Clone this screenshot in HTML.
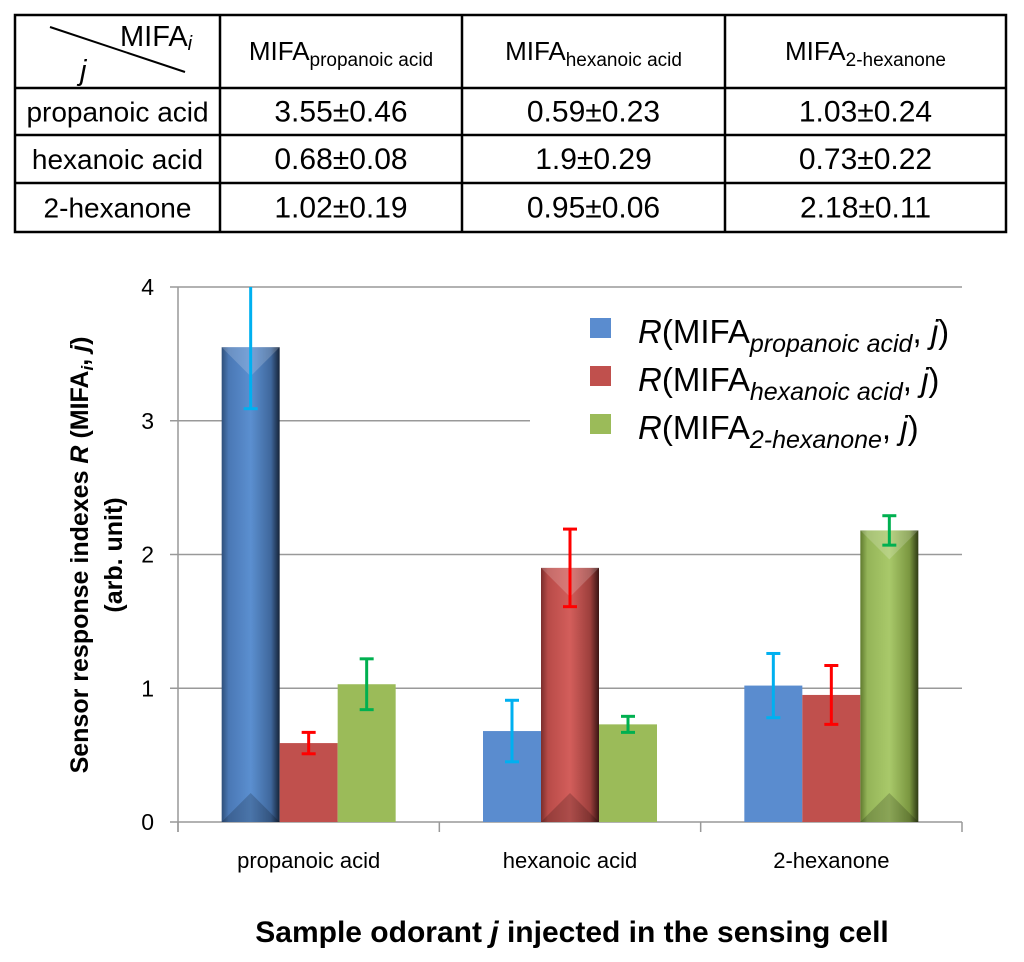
<!DOCTYPE html>
<html><head><meta charset="utf-8">
<style>
html,body{margin:0;padding:0;background:#fff;}
body{width:1024px;height:962px;position:relative;overflow:hidden;font-family:"Liberation Sans",sans-serif;}
svg{position:absolute;left:0;top:0;}
</style></head>
<body>
<svg width="1024" height="962" id="chart" xmlns="http://www.w3.org/2000/svg" font-family="Liberation Sans, sans-serif">
<defs>
<linearGradient id="gBlue" x1="0" x2="1" y1="0" y2="0">
<stop offset="0" stop-color="#2f4f7a"/><stop offset="0.12" stop-color="#4a78b5"/><stop offset="0.5" stop-color="#5b8fd0"/><stop offset="0.85" stop-color="#3f679c"/><stop offset="1" stop-color="#152338"/></linearGradient>
<linearGradient id="gRed" x1="0" x2="1" y1="0" y2="0">
<stop offset="0" stop-color="#7a2e2c"/><stop offset="0.12" stop-color="#b84b48"/><stop offset="0.5" stop-color="#d35e5b"/><stop offset="0.85" stop-color="#9c3f3c"/><stop offset="1" stop-color="#3a1514"/></linearGradient>
<linearGradient id="gGreen" x1="0" x2="1" y1="0" y2="0">
<stop offset="0" stop-color="#5f7a2e"/><stop offset="0.12" stop-color="#94b458"/><stop offset="0.5" stop-color="#a9c96a"/><stop offset="0.85" stop-color="#7a9640"/><stop offset="1" stop-color="#2e3a14"/></linearGradient>
</defs>
<g id="table"></g>
<g id="grid"></g>
<g id="bars"></g>
<g id="errs"></g>
<g id="axes"></g>
<text transform="translate(88,555) rotate(-90)" text-anchor="middle" font-size="25" font-weight="bold">Sensor response indexes <tspan font-style="italic">R</tspan> (MIFA<tspan font-size="17" dy="5" font-style="italic">i</tspan><tspan dy="-5">, </tspan><tspan font-style="italic">j</tspan>)</text>
<text transform="translate(122,555) rotate(-90)" text-anchor="middle" font-size="25" font-weight="bold">(arb. unit)</text>
<text x="572" y="942" text-anchor="middle" font-size="30" font-weight="bold">Sample odorant <tspan font-style="italic">j</tspan> injected in the sensing cell</text>
<g>
<rect x="530" y="298" width="434" height="180" fill="#fff"/>
<rect x="590" y="318" width="21" height="20" fill="#5a8ccf"/>
<rect x="590" y="366" width="21" height="20" fill="#c0504d"/>
<rect x="590" y="414" width="21" height="20" fill="#9bbb59"/>
<text x="638" y="343" font-size="33"><tspan font-style="italic">R</tspan>(MIFA<tspan font-style="italic" font-size="25" dy="9">propanoic acid</tspan><tspan dy="-9">, </tspan><tspan font-style="italic">j</tspan>)</text>
<text x="638" y="391" font-size="33"><tspan font-style="italic">R</tspan>(MIFA<tspan font-style="italic" font-size="25" dy="9">hexanoic acid</tspan><tspan dy="-9">, </tspan><tspan font-style="italic">j</tspan>)</text>
<text x="638" y="439" font-size="33"><tspan font-style="italic">R</tspan>(MIFA<tspan font-style="italic" font-size="25" dy="9">2-hexanone</tspan><tspan dy="-9">, </tspan><tspan font-style="italic">j</tspan>)</text>
</g>
</svg>
<script>
const categories = ["propanoic acid","hexanoic acid","2-hexanone"];
const seriesProp = [3.55, 0.68, 1.02];
const seriesHex = [0.59, 1.9, 0.95];
const seriesKet = [1.03, 0.73, 2.18];
const errProp = [0.46, 0.23, 0.24];
const errHex = [0.08, 0.29, 0.22];
const errKet = [0.19, 0.06, 0.11];
const yTicks = [0,1,2,3,4];
const tableHeader = ["propanoic acid","hexanoic acid","2-hexanone"];
const tableRows = ["propanoic acid","hexanoic acid","2-hexanone"];
const tableCells = [["3.55±0.46","0.59±0.23","1.03±0.24"],["0.68±0.08","1.9±0.29","0.73±0.22"],["1.02±0.19","0.95±0.06","2.18±0.11"]];

const NS="http://www.w3.org/2000/svg";
function mk(tag,attrs,parent){const e=document.createElementNS(NS,tag);for(const k in attrs)e.setAttribute(k,attrs[k]);parent.appendChild(e);return e;}
const X0=178,X1=962,Y0=822,Y4=287;
const yMax=4;
function ys(v){return Y0-(Math.min(v,yMax)/yMax)*(Y0-Y4);}
const catW=(X1-X0)/categories.length;
const barW=58;
function xs(ci,si){return X0+catW*ci+catW/2-1.5*barW+si*barW;}

// table
const T=document.getElementById('table');
const colX=[15,220,462,725,1006], rowY=[15,88,135,183,232];
mk('rect',{x:15,y:15,width:991,height:217,fill:'none',stroke:'#000','stroke-width':2.5},T);
for(let i=1;i<4;i++){const l=mk('line',{x1:colX[i],x2:colX[i],y1:15,y2:232,stroke:'#000','stroke-width':2.5},T);}
for(let i=1;i<4;i++){const l=mk('line',{x1:15,x2:1006,y1:rowY[i],y2:rowY[i],stroke:'#000','stroke-width':2.5},T);}
mk('line',{x1:50,y1:27,x2:185,y2:72,stroke:'#000','stroke-width':2},T);
let t=mk('text',{x:120,y:46,'font-size':29},T);t.innerHTML='MIFA<tspan font-size="20" dy="4" font-style="italic">i</tspan>';

t=mk('text',{x:80,y:80,'font-size':29,'font-style':'italic'},T);t.textContent='j';

for(let c=0;c<3;c++){
  const h=mk('text',{x:(colX[c+1]+colX[c+2])/2,y:60,'text-anchor':'middle','font-size':26},T);
  h.innerHTML='MIFA<tspan font-size="19" dy="6">'+tableHeader[c]+'</tspan>';
  
}
for(let r=0;r<3;r++){
  const cy=(rowY[r+1]+rowY[r+2])/2+10;
  const rl=mk('text',{x:(colX[0]+colX[1])/2,y:cy,'text-anchor':'middle','font-size':28},T);rl.textContent=tableRows[r];
  
  for(let c=0;c<3;c++){
    const ce=mk('text',{x:(colX[c+1]+colX[c+2])/2,y:cy,'text-anchor':'middle','font-size':30},T);ce.textContent=tableCells[r][c];
    
  }
}

// grid
const G=document.getElementById('grid');
yTicks.forEach(v=>{
  const gl=mk('line',{x1:X0-8,x2:X1,y1:ys(v),y2:ys(v),stroke:'#999','stroke-width':1.5},G);
  
  const tl=mk('text',{x:X0-24,y:ys(v)+8,'text-anchor':'end','font-size':23},G);tl.textContent=v;
  
});
// bars
const B=document.getElementById('bars');
const series=[seriesProp,seriesHex,seriesKet];
const errs=[errProp,errHex,errKet];
const flat=['#5a8ccf','#c0504d','#9bbb59'];
const grads=['url(#gBlue)','url(#gRed)','url(#gGreen)'];
const errCol=['#00b0f0','#ff0000','#00b050'];
for(let c=0;c<categories.length;c++){
  for(let s=0;s<3;s++){
    const v=series[s][c],x=xs(c,s),y=ys(v),h=Y0-y;
    const hl=(s===c);
    const r=mk('rect',{x:x,y:y,width:barW,height:h,fill:hl?grads[s]:flat[s]},B);
    
    if(hl){
      const p=mk('polygon',{points:`${x},${y} ${x+barW},${y} ${x+barW/2},${y+barW/2}`,fill:'#fff','fill-opacity':0.18},B);
      
      const p2=mk('polygon',{points:`${x},${Y0} ${x+barW},${Y0} ${x+barW/2},${Y0-barW/2}`,fill:'#000','fill-opacity':0.18},B);
      
    }
  }
}
// error bars
const E=document.getElementById('errs');
for(let c=0;c<categories.length;c++){
  for(let s=0;s<3;s++){
    const v=series[s][c],e=errs[s][c],cx=xs(c,s)+barW/2;
    const yt=ys(v+e),yb=ys(v-e);
    const g=mk('g',{stroke:errCol[s],'stroke-width':3},E);
    
    mk('line',{x1:cx,x2:cx,y1:yt,y2:yb},g);
    if(v+e<=yMax) mk('line',{x1:cx-7,x2:cx+7,y1:yt,y2:yt},g);
    mk('line',{x1:cx-7,x2:cx+7,y1:yb,y2:yb},g);
  }
}
// axes
const A=document.getElementById('axes');
mk('line',{x1:X0,x2:X0,y1:Y4,y2:Y0+10,stroke:'#999','stroke-width':1.5},A);
for(let i=0;i<=categories.length;i++){mk('line',{x1:X0+catW*i,x2:X0+catW*i,y1:Y0,y2:Y0+10,stroke:'#999','stroke-width':1.5},A);}
categories.forEach((c,i)=>{
  const tl=mk('text',{x:X0+catW*i+catW/2,y:868,'text-anchor':'middle','font-size':22},A);tl.textContent=c;
  
});
</script>
</body></html>
